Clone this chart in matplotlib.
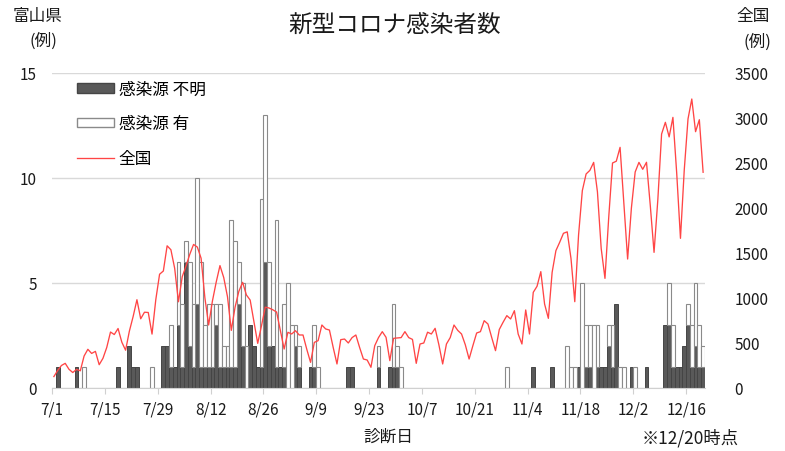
import numpy as np
import matplotlib.pyplot as plt
from matplotlib.patches import Patch
from matplotlib.lines import Line2D

plt.rcParams['font.family'] = ['Noto Sans CJK JP', 'DejaVu Sans']

W, H = 785, 452

# tick labels every 14 days starting 7/1
tick_labels = ['7/1', '7/15', '7/29', '8/12', '8/26', '9/9', '9/23',
               '10/7', '10/21', '11/4', '11/18', '12/2', '12/16']

# Toyama daily cases, 7/1 .. 12/20 (rows of 14 days)
unknown = [
    0, 1, 0, 0, 0, 0, 1, 0, 0, 0, 0, 0, 0, 0,
    0, 0, 0, 1, 0, 0, 2, 1, 1, 0, 0, 0, 0, 0,
    0, 2, 2, 1, 1, 3, 1, 6, 2, 1, 4, 1, 1, 1,
    1, 3, 1, 1, 1, 1, 1, 4, 2, 0, 3, 2, 1, 1,
    6, 2, 2, 1, 1, 1, 0, 0, 2, 1, 0, 0, 1, 1,
    0, 0, 0, 0, 0, 0, 0, 0, 1, 1, 0, 0, 0, 0,
    0, 0, 1, 0, 0, 1, 1, 1, 0, 0, 0, 0, 0, 0,
    0, 0, 0, 0, 0, 0, 0, 0, 0, 0, 0, 0, 0, 0,
    0, 0, 0, 0, 0, 0, 0, 0, 0, 0, 0, 0, 0, 0,
    0, 1, 0, 0, 0, 0, 1, 0, 0, 0, 0, 0, 0, 1,
    0, 1, 1, 0, 1, 1, 1, 2, 1, 4, 0, 0, 0, 1,
    0, 0, 0, 1, 0, 0, 0, 0, 3, 3, 1, 1, 1, 2,
    3, 1, 2, 1, 1,
]
known = [
    0, 0, 0, 0, 0, 0, 0, 0, 1, 0, 0, 0, 0, 0,
    0, 0, 0, 0, 0, 0, 0, 0, 0, 0, 0, 0, 1, 0,
    0, 0, 0, 2, 0, 3, 3, 1, 4, 3, 6, 5, 2, 3,
    3, 1, 3, 1, 1, 7, 6, 2, 3, 2, 0, 0, 0, 8,
    7, 4, 0, 7, 0, 3, 5, 3, 1, 1, 0, 0, 0, 2,
    1, 0, 0, 0, 0, 0, 0, 0, 0, 0, 0, 0, 0, 0,
    0, 0, 1, 0, 0, 0, 3, 1, 1, 0, 0, 0, 0, 0,
    0, 0, 0, 0, 0, 0, 0, 0, 0, 0, 0, 0, 0, 0,
    0, 0, 0, 0, 0, 0, 0, 0, 1, 0, 0, 0, 0, 0,
    0, 0, 0, 0, 0, 0, 0, 0, 0, 0, 2, 1, 1, 0,
    5, 2, 2, 3, 2, 0, 0, 1, 2, 0, 1, 1, 0, 0,
    1, 0, 0, 0, 0, 0, 0, 0, 0, 2, 2, 0, 0, 0,
    1, 2, 3, 2, 1,
]

# nationwide daily cases (right axis), by month
national = [
    # July
    127, 195, 250, 274, 208, 172, 207, 191, 355, 430, 384, 407, 259, 330, 450, 622,
    594, 661, 509, 420, 632, 795, 981, 769, 842, 839, 599, 982, 1264, 1300, 1580,
    # August
    1536, 1330, 958, 1236, 1356, 1485, 1595, 1566, 1442, 1004, 700, 966, 1176, 1360,
    1227, 1012, 640, 898, 1074, 1174, 1034, 977, 733, 496, 691, 898, 889, 869, 844,
    640, 433,
    # September
    619, 600, 637, 589, 589, 430, 285, 507, 526, 700, 656, 644, 450, 267, 537, 544,
    500, 560, 589, 450, 322, 311, 230, 470, 560, 626, 563, 304, 552, 556,
    # October
    560, 626, 560, 540, 274, 489, 500, 620, 600, 663, 480, 267, 489, 560, 700, 640,
    600, 480, 322, 470, 611, 626, 748, 711, 560, 415, 650, 730, 804, 767, 859,
    # November
    600, 489, 867, 600, 1063, 1130, 1293, 933, 774, 1285, 1526, 1619, 1719, 1735,
    1438, 959, 1699, 2193, 2378, 2418, 2507, 2180, 1550, 1218, 1900, 2500, 2520,
    2674, 2050, 1433,
    # December
    2000, 2400, 2507, 2430, 2508, 2030, 1507, 2090, 2822, 2952, 2790, 3007, 2390,
    1663, 2420, 2990, 3211, 2848, 2981, 2397,
]

DARK = '#595959'
RED = '#ff4545'
TXT = '#1a1a1a'

u = np.array(unknown)
k = np.array(known)
x = np.arange(len(u))

fig = plt.figure(figsize=(W / 100, H / 100), dpi=100)
ax = fig.add_axes([52 / W, 1 - 389 / H, (705 - 52) / W, (389 - 74) / H])

# only draw non-empty bars so zero days leave no outline
m = u > 0
ax.bar(x[m], u[m], width=1.0, color=DARK, edgecolor='#454545', linewidth=0.7, zorder=2)
m = k > 0
ax.bar(x[m], k[m], bottom=u[m], width=1.0, color='white', edgecolor='#8a8a8a',
       linewidth=0.8, zorder=2)

ax.set_xlim(-0.5, len(u) - 0.5)
ax.set_ylim(0, 15)
ax.set_yticks([0, 5, 10, 15])
ax.yaxis.grid(True, color='#d9d9d9', linewidth=1.0)
ax.set_axisbelow(True)
ax.set_xticks(np.arange(len(tick_labels)) * 14 - 0.5)
ax.set_xticklabels(tick_labels)
ax.tick_params(axis='x', length=4, color='#d0d0d0', pad=5, labelsize=11, labelcolor=TXT)
ax.tick_params(axis='y', length=0, pad=11, labelsize=11, labelcolor=TXT)
for s in ['left', 'right', 'top']:
    ax.spines[s].set_visible(False)
ax.spines['bottom'].set_color('#d0d0d0')

ax2 = ax.twinx()
ax2.plot(x, national, color=RED, linewidth=0.95)
ax2.set_ylim(0, 3500)
ax2.set_yticks(np.arange(0, 3501, 500))
ax2.tick_params(axis='y', length=0, pad=21, labelsize=11, labelcolor=TXT)
for s in ax2.spines.values():
    s.set_visible(False)

handles = [Patch(facecolor=DARK, edgecolor='#454545'),
           Patch(facecolor='white', edgecolor='#8a8a8a'),
           Line2D([], [], color=RED, linewidth=0.95)]
ax2.legend(handles, ['感染源 不明', '感染源 有', '全国'], loc='upper left',
           bbox_to_anchor=(77 / W, 1 - 82 / H), bbox_transform=fig.transFigure,
           frameon=False, borderpad=0, borderaxespad=0, handlelength=2.2,
           handleheight=0.5, handletextpad=0.3, labelspacing=1.05, fontsize=12)

def put(px, py, s, **kw):
    fig.text(px / W, 1 - py / H, s, ha='center', va='center', color=TXT, **kw)

put(395, 26, '新型コロナ感染者数', fontsize=17)
put(38, 17, '富山県', fontsize=12)
put(43, 41, '(例)', fontsize=12)
put(753, 17, '全国', fontsize=12)
put(757, 42, '(例)', fontsize=12)
put(388, 437, '診断日', fontsize=12)
put(690, 438, '※12/20時点', fontsize=12.5)

fig.savefig('out.png', dpi=100)
